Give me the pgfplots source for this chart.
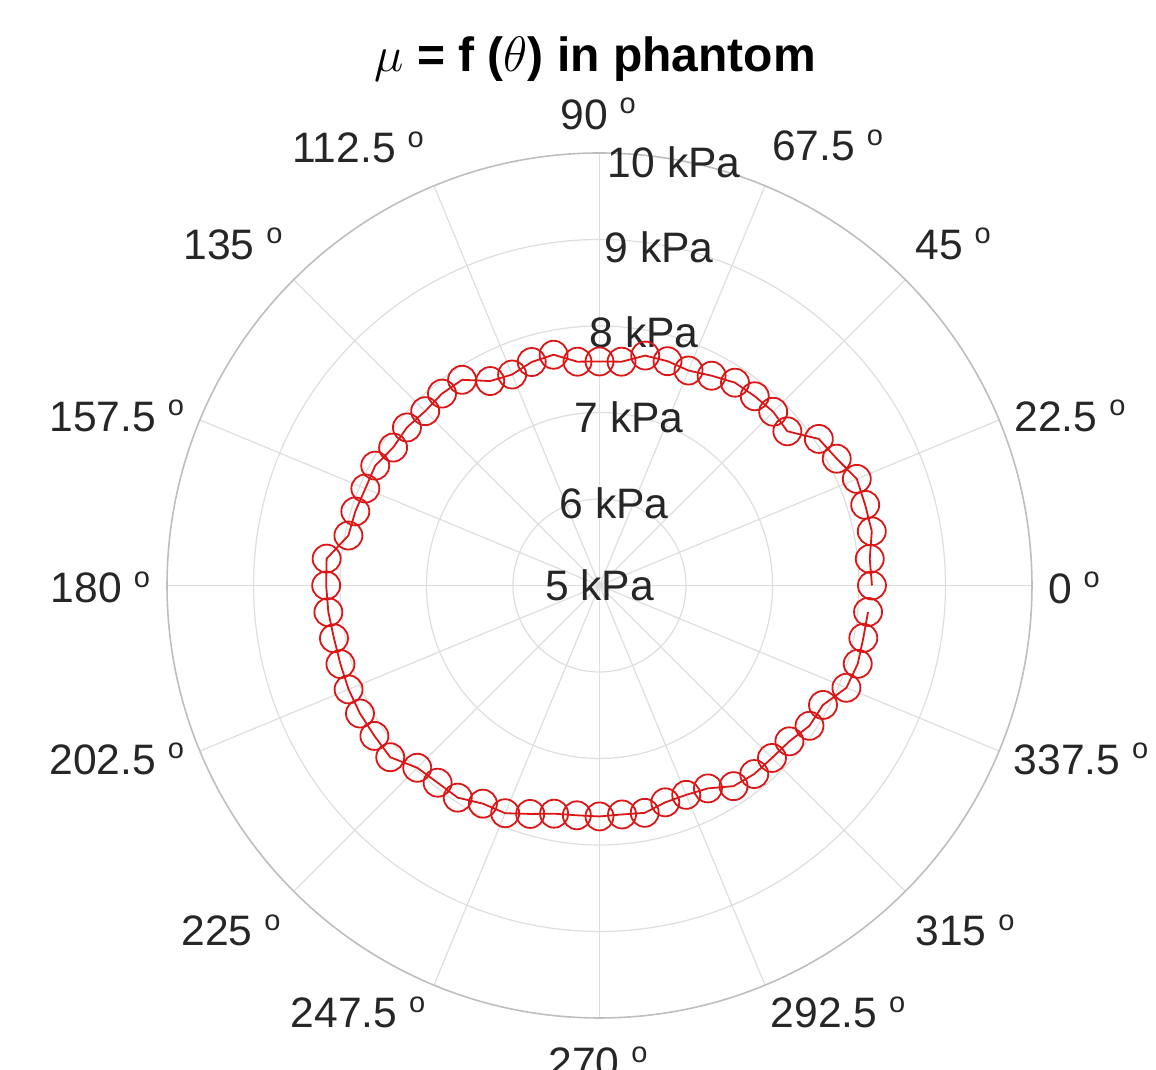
\documentclass[border=0pt]{standalone}
\usepackage{pgfplots}
\pgfplotsset{compat=1.18}
\usepackage{pgfplotstable}
\usepackage{fontspec}
\setmainfont{Liberation Sans}
\definecolor{txt}{RGB}{38,38,38}
\definecolor{grd}{RGB}{222,222,222}
\definecolor{outc}{RGB}{190,190,190}
\definecolor{dat}{RGB}{218,22,22}

\pgfplotstableread{
t r
0 8.15
5.625 8.14
11.25 8.21
16.875 8.21
22.5 8.22
28.125 8.11
33.75 8.05
39.375 7.81
45 7.84
50.625 7.83
56.25 7.82
61.875 7.75
67.5 7.69
73.125 7.71
78.75 7.71
84.375 7.60
90 7.59
95.625 7.60
101.25 7.72
106.875 7.70
112.5 7.64
118.125 7.68
123.75 7.86
129.375 7.87
135 7.85
140.625 7.88
146.25 7.87
151.875 7.94
157.5 7.93
163.125 7.95
168.75 7.96
174.375 8.17
180 8.16
185.625 8.15
191.25 8.13
196.875 8.13
202.5 8.14
208.125 8.14
213.75 8.13
219.375 8.13
225 7.98
230.625 7.95
236.25 7.95
241.875 7.86
247.5 7.85
253.125 7.76
258.75 7.69
264.375 7.67
270 7.67
275.625 7.66
281.25 7.68
286.875 7.62
292.5 7.62
298.125 7.66
303.75 7.79
309.375 7.82
315 7.82
320.625 7.84
326.25 7.92
331.875 7.93
337.5 8.09
343.125 8.12
348.75 8.11
354.375 8.12
}\data

\newcommand\degsym{ \raisebox{7.6pt}{\fontsize{14.5}{15}\selectfont o}}
\newcommand\spoke[1]{\draw[grd, line width=0.6pt] (axis cs:0,0) -- (axis cs:{5*cos(#1)},{5*sin(#1)});}
\newcommand\alab[3]{\node[anchor=center, inner sep=0pt, text=txt, font=\fontsize{21.3}{24}\selectfont] at (axis cs:#1,#2) {#3\degsym};}
\newcommand\rlab[2]{\node[anchor=center, inner sep=0pt, text=txt, font=\fontsize{21.3}{24}\selectfont] at (axis cs:{#1*cos(80)},{#1*sin(80)}) {#2 kPa};}

\begin{document}
\begin{tikzpicture}
\begin{axis}[
  scale only axis, width=578pt, height=534.5pt,
  xmin=-6.931, xmax=6.434, ymin=-5.590, ymax=6.769,
  hide axis, clip=false,
]
\coordinate (BL) at (rel axis cs:0,0);
\coordinate (TR) at (rel axis cs:1,1);
% grid circles
\draw[grd, line width=0.6pt] (axis cs:0,0) circle [radius=1];
\draw[grd, line width=0.6pt] (axis cs:0,0) circle [radius=2];
\draw[grd, line width=0.6pt] (axis cs:0,0) circle [radius=3];
\draw[grd, line width=0.6pt] (axis cs:0,0) circle [radius=4];
% spokes
\spoke{0}\spoke{22.5}\spoke{45}\spoke{67.5}\spoke{90}\spoke{112.5}\spoke{135}\spoke{157.5}
\spoke{180}\spoke{202.5}\spoke{225}\spoke{247.5}\spoke{270}\spoke{292.5}\spoke{315}\spoke{337.5}
\draw[outc, line width=0.8pt] (axis cs:0,0) circle [radius=5];
% data
\addplot[dat, line width=0.9pt, mark=o, mark size=7pt, mark options={line width=0.9pt}]
  table[x expr={(\thisrow{r}-5)*cos(\thisrow{t})}, y expr={(\thisrow{r}-5)*sin(\thisrow{t})}] {\data};
% radial labels
\rlab{0}{5}
\rlab{0.97}{6}
\rlab{1.97}{7}
\rlab{2.97}{8}
\rlab{3.97}{9}
\rlab{4.97}{10}
% angle labels
\alab{5.486}{-0.029}{0}
\alab{5.439}{1.960}{22.5}
\alab{4.087}{3.948}{45}
\alab{2.636}{5.092}{67.5}
\alab{-0.017}{5.451}{90}
\alab{-2.792}{5.069}{112.5}
\alab{-4.237}{3.948}{135}
\alab{-5.582}{1.960}{157.5}
\alab{-5.769}{-0.023}{180}
\alab{-5.582}{-2.006}{202.5}
\alab{-4.260}{-3.988}{225}
\alab{-2.792}{-4.931}{247.5}
\alab{-0.017}{-5.514}{270}
\alab{2.757}{-4.931}{292.5}
\alab{4.225}{-3.988}{315}
\alab{5.566}{-2.006}{337.5}
% title
\node[anchor=base, inner sep=0pt, font=\fontsize{24}{27}\selectfont\bfseries] at (axis cs:-0.05,5.94) {$\mu$ = f ($\theta$) in phantom};
\end{axis}
\pgfresetboundingbox
\useasboundingbox (BL) rectangle (TR);
\end{tikzpicture}
\end{document}
